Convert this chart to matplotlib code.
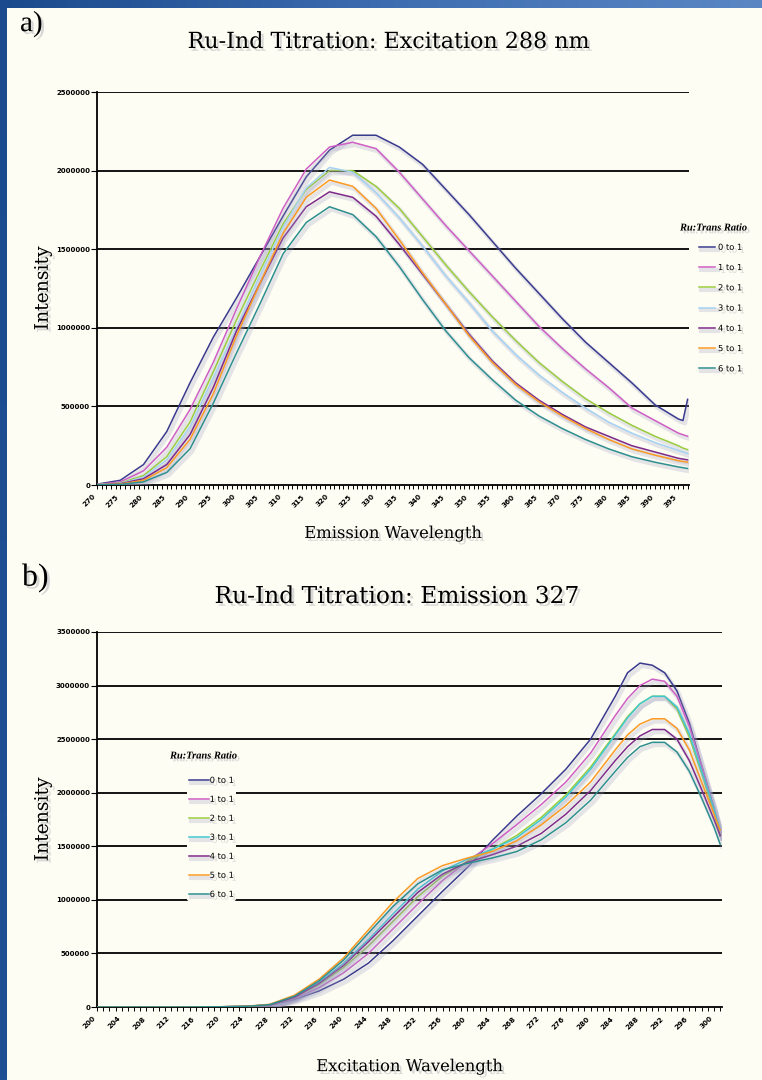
import numpy as np
import matplotlib
matplotlib.use("Agg")
import matplotlib.pyplot as plt
import matplotlib.patheffects as pe
from matplotlib.ticker import MultipleLocator, FixedLocator

BG = "#fdfdf3"

# ---- data: panel a (emission scan, excitation 288 nm) ----
ratios = ["0 to 1", "1 to 1", "2 to 1", "3 to 1", "4 to 1", "5 to 1", "6 to 1"]
wl_a = list(range(270, 400, 5)) + [396, 397]

em_0 = [5e3, 30e3, 130e3, 340e3, 650e3, 940e3, 1.19e6, 1.45e6, 1.71e6, 1.96e6, 2.13e6, 2.225e6, 2.225e6,
        2.15e6, 2.04e6, 1.88e6, 1.72e6, 1.55e6, 1.38e6, 1.22e6, 1.06e6, 0.91e6, 0.78e6, 0.65e6, 0.51e6,
        0.42e6, 0.41e6, 0.545e6]
em_1 = [3e3, 20e3, 90e3, 240e3, 480e3, 780e3, 1.12e6, 1.45e6, 1.76e6, 2.01e6, 2.15e6, 2.18e6, 2.14e6,
        1.99e6, 1.82e6, 1.65e6, 1.49e6, 1.33e6, 1.17e6, 1.01e6, 0.87e6, 0.74e6, 0.62e6, 0.49e6, 0.41e6,
        0.33e6, 0.32e6, 0.31e6]
em_2 = [2e3, 12e3, 60e3, 180e3, 400e3, 720e3, 1.05e6, 1.36e6, 1.66e6, 1.88e6, 2.0e6, 2.0e6, 1.9e6,
        1.76e6, 1.58e6, 1.40e6, 1.23e6, 1.07e6, 0.92e6, 0.78e6, 0.66e6, 0.55e6, 0.46e6, 0.38e6, 0.31e6,
        0.25e6, 0.235e6, 0.225e6]
em_3 = [2e3, 10e3, 50e3, 160e3, 370e3, 680e3, 1.0e6, 1.33e6, 1.64e6, 1.89e6, 2.02e6, 1.99e6, 1.86e6,
        1.70e6, 1.52e6, 1.33e6, 1.16e6, 0.98e6, 0.83e6, 0.70e6, 0.59e6, 0.49e6, 0.40e6, 0.33e6, 0.27e6,
        0.22e6, 0.21e6, 0.20e6]
em_4 = [1e3, 8e3, 40e3, 130e3, 320e3, 620e3, 0.98e6, 1.28e6, 1.57e6, 1.77e6, 1.865e6, 1.83e6, 1.71e6,
        1.53e6, 1.34e6, 1.15e6, 0.96e6, 0.79e6, 0.65e6, 0.54e6, 0.45e6, 0.37e6, 0.31e6, 0.25e6, 0.21e6,
        0.17e6, 0.165e6, 0.16e6]
em_5 = [1e3, 6e3, 30e3, 110e3, 290e3, 580e3, 0.95e6, 1.28e6, 1.6e6, 1.83e6, 1.94e6, 1.9e6, 1.76e6,
        1.56e6, 1.35e6, 1.15e6, 0.95e6, 0.78e6, 0.64e6, 0.53e6, 0.44e6, 0.36e6, 0.29e6, 0.23e6, 0.19e6,
        0.155e6, 0.15e6, 0.145e6]
em_6 = [1e3, 4e3, 20e3, 80e3, 230e3, 520e3, 0.84e6, 1.15e6, 1.47e6, 1.67e6, 1.77e6, 1.72e6, 1.58e6,
        1.39e6, 1.18e6, 0.98e6, 0.81e6, 0.67e6, 0.54e6, 0.44e6, 0.36e6, 0.29e6, 0.23e6, 0.18e6, 0.145e6,
        0.115e6, 0.11e6, 0.105e6]

# ---- data: panel b (excitation scan, emission 327 nm) ----
wl_b = [200, 204, 208, 212, 216, 220, 224, 228, 232, 236, 240, 244, 248, 252, 256, 260, 264, 268, 272,
        276, 280, 284, 286, 288, 290, 292, 294, 296, 298, 300, 301]
flat = [0, 0, 0, 0, 1e3, 2e3, 5e3]
ex_0 = flat + [15e3, 70e3, 150e3, 260e3, 410e3, 620e3, 850e3, 1.08e6, 1.3e6, 1.55e6, 1.78e6, 1.99e6,
               2.22e6, 2.5e6, 2.9e6, 3.12e6, 3.21e6, 3.19e6, 3.12e6, 2.95e6, 2.65e6, 2.25e6, 1.85e6, 1.6e6]
ex_1 = flat + [18e3, 80e3, 180e3, 320e3, 500e3, 730e3, 960e3, 1.18e6, 1.36e6, 1.52e6, 1.7e6, 1.89e6,
               2.1e6, 2.37e6, 2.72e6, 2.88e6, 3.0e6, 3.06e6, 3.04e6, 2.9e6, 2.62e6, 2.25e6, 1.85e6, 1.6e6]
ex_2 = flat + [20e3, 90e3, 210e3, 370e3, 570e3, 800e3, 1.03e6, 1.22e6, 1.36e6, 1.47e6, 1.6e6, 1.77e6,
               1.98e6, 2.24e6, 2.55e6, 2.71e6, 2.83e6, 2.9e6, 2.9e6, 2.78e6, 2.52e6, 2.18e6, 1.82e6, 1.6e6]
ex_3 = flat + [22e3, 95e3, 230e3, 410e3, 630e3, 870e3, 1.1e6, 1.27e6, 1.38e6, 1.47e6, 1.58e6, 1.75e6,
               1.96e6, 2.22e6, 2.54e6, 2.7e6, 2.83e6, 2.9e6, 2.9e6, 2.8e6, 2.55e6, 2.2e6, 1.85e6, 1.65e6]
ex_4 = flat + [20e3, 90e3, 220e3, 390e3, 610e3, 840e3, 1.07e6, 1.24e6, 1.35e6, 1.42e6, 1.5e6, 1.62e6,
               1.8e6, 2.02e6, 2.3e6, 2.43e6, 2.53e6, 2.59e6, 2.59e6, 2.5e6, 2.3e6, 2.03e6, 1.75e6, 1.6e6]
ex_5 = flat + [25e3, 110e3, 260e3, 460e3, 720e3, 980e3, 1.2e6, 1.32e6, 1.39e6, 1.45e6, 1.55e6, 1.7e6,
               1.88e6, 2.1e6, 2.4e6, 2.54e6, 2.64e6, 2.69e6, 2.69e6, 2.6e6, 2.4e6, 2.1e6, 1.8e6, 1.65e6]
ex_6 = flat + [22e3, 100e3, 245e3, 440e3, 690e3, 940e3, 1.15e6, 1.28e6, 1.34e6, 1.39e6, 1.45e6, 1.56e6,
               1.72e6, 1.93e6, 2.2e6, 2.33e6, 2.43e6, 2.47e6, 2.47e6, 2.38e6, 2.2e6, 1.95e6, 1.68e6, 1.52e6]

colors_a = ["#3a3a8e", "#cf5fc4", "#9acd3e", "#a6d2f3", "#7e2a8a", "#fb9a24", "#2e8f8f"]
colors_b = ["#3a3a8e", "#cf5fc4", "#9acd3e", "#3fc8d2", "#7e2a8a", "#fb9a24", "#2e8f8f"]

SERIF = "DejaVu Serif"
shadow = [pe.withSimplePatchShadow(offset=(2, -2), shadow_rgbFace="#9090a0", alpha=0.35)]
lshadow = [pe.SimpleLineShadow(offset=(1.5, -2), shadow_color="#9a9ac0", alpha=0.25, linewidth=3), pe.Normal()]


def style_axes(ax, xlim, ymax, ystep, xmajor, xlabel, xpad):
    ax.set_facecolor(BG)
    ax.set_xlim(*xlim)
    ax.set_ylim(0, ymax)
    yt = np.arange(0, ymax + 1, ystep)
    ax.set_yticks(yt)
    ax.set_yticklabels([str(int(v)) for v in yt], fontsize=5, fontweight="bold", family="DejaVu Sans")
    for v in yt[1:]:
        ax.axhline(v, color="black", lw=1.3, zorder=1)
    ax.xaxis.set_major_locator(FixedLocator(xmajor))
    ax.set_xticklabels([str(v) for v in xmajor], rotation=45, ha="right", va="top",
                       fontsize=5.2, fontweight="bold", family="DejaVu Sans")
    ax.xaxis.set_minor_locator(MultipleLocator(1))
    ax.tick_params(axis="x", which="both", length=3, width=0.7, direction="out", pad=3)
    ax.tick_params(axis="y", length=4, width=0.8, pad=1)
    for s in ["top", "right"]:
        ax.spines[s].set_visible(False)
    ax.spines["left"].set_linewidth(1.3)
    ax.spines["bottom"].set_linewidth(1.3)
    ax.set_ylabel("Intensity", family=SERIF, fontsize=13.5, labelpad=3, path_effects=shadow)
    ax.set_xlabel(xlabel, family=SERIF, fontsize=11.8, labelpad=xpad, path_effects=shadow)


def add_legend(ax, anchor, hlen, hpad, lspace):
    leg = ax.legend(loc="upper left", bbox_to_anchor=anchor, bbox_transform=fig.transFigure,
                    prop={"family": "DejaVu Sans", "size": 6}, handlelength=hlen, handletextpad=hpad,
                    labelspacing=lspace, frameon=True, facecolor=BG, edgecolor="none", framealpha=1,
                    borderpad=0.2)
    for t in leg.get_texts():
        t.set_path_effects(shadow)
    return leg


fig = plt.figure(figsize=(7.62, 10.8), dpi=100)
fig.patch.set_facecolor(BG)

# blue frame: left strip and gradient band on top
band = fig.add_axes([0, 1 - 8 / 1080, 1, 8 / 1080])
grad = np.linspace(0, 1, 256).reshape(1, -1)
band.imshow(grad, aspect="auto", cmap=matplotlib.colors.LinearSegmentedColormap.from_list(
    "b", ["#1a4a8c", "#3d6db0", "#5a86c4"]))
band.axis("off")
strip = fig.add_axes([0, 0, 7 / 762, 1])
strip.imshow(grad.T, aspect="auto", cmap=matplotlib.colors.LinearSegmentedColormap.from_list(
    "s", ["#1b4b8e", "#1f5096"]))
strip.axis("off")

# panel a
ax1 = fig.add_axes([97 / 762, 1 - 485 / 1080, 592 / 762, 393 / 1080])
style_axes(ax1, (270, 397.3), 2500000, 500000, list(range(270, 396, 5)), "Emission Wavelength", 12)
for lab, c, ys in zip(ratios, colors_a, [em_0, em_1, em_2, em_3, em_4, em_5, em_6]):
    ax1.plot(wl_a, ys, color=c, lw=1.1, label=lab, zorder=3, path_effects=lshadow)
add_legend(ax1, (693 / 762, 1 - 237 / 1080), 2.0, 0.3, 1.35)
fig.text(680 / 762, 1 - 228 / 1080, "Ru:Trans Ratio", family="Liberation Serif", style="italic",
         weight="bold", fontsize=7.5, ha="left", va="center", path_effects=shadow)
fig.text(389 / 762, 1 - 42 / 1080, "Ru-Ind Titration: Excitation 288 nm", family=SERIF, fontsize=16,
         ha="center", va="center", path_effects=shadow)
fig.text(20 / 762, 1 - 24 / 1080, "a)", family="Liberation Serif", fontsize=21, ha="left", va="center",
         path_effects=shadow)

# panel b
ax2 = fig.add_axes([97 / 762, 1 - 1007 / 1080, 625 / 762, 375 / 1080])
style_axes(ax2, (200, 301.3), 3500000, 500000, list(range(200, 301, 4)), "Excitation Wavelength", 20)
for lab, c, ys in zip(ratios, colors_b, [ex_0, ex_1, ex_2, ex_3, ex_4, ex_5, ex_6]):
    ax2.plot(wl_b, ys, color=c, lw=1.1, label=lab, zorder=3, path_effects=lshadow)
add_legend(ax2, (183 / 762, 1 - 770 / 1080), 2.4, 0.1, 1.2)
fig.text(170 / 762, 1 - 756 / 1080, "Ru:Trans Ratio", family="Liberation Serif", style="italic",
         weight="bold", fontsize=7.5, ha="left", va="center", path_effects=shadow)
fig.text(397 / 762, 1 - 597 / 1080, "Ru-Ind Titration: Emission 327", family=SERIF, fontsize=16.8,
         ha="center", va="center", path_effects=shadow)
fig.text(22 / 762, 1 - 578 / 1080, "b)", family="Liberation Serif", fontsize=23, ha="left", va="center",
         path_effects=shadow)

fig.savefig("out.png", dpi=100, facecolor=BG)
